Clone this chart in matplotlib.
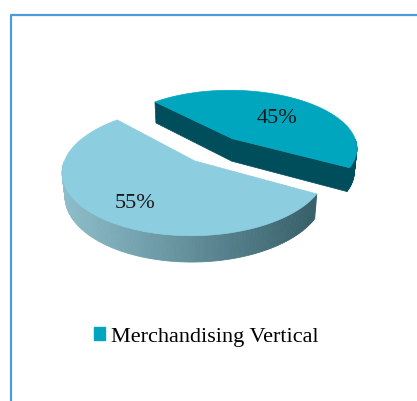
import numpy as np
import matplotlib.pyplot as plt
from matplotlib.patches import Polygon, Patch
from matplotlib.lines import Line2D

# pie data
shares = [45, 55]
share_labels = ['45%', '55%']
legend_names = ['Merchandising Vertical', '']
top_colors = ['#00a6be', '#8ccddf']
side_colors = ['#004e5c', None]          # None -> shaded rim
rim_light, rim_dark = np.array([0.56, 0.75, 0.80]), np.array([0.22, 0.38, 0.42])

# 3d view settings (pixel space)
elev = np.radians(29.7)
dist = 5.64
focal = 700.0
cx, cy = 214.0, 172.5
height = 0.21
explode = 0.24
start = -29.0


def project(X, Y, Z):
    w = dist + Y * np.cos(elev) - Z * np.sin(elev)
    v = Y * np.sin(elev) + Z * np.cos(elev)
    return cx + focal * X / w, cy - focal * v / w


fig = plt.figure(figsize=(4.17, 4.01), dpi=100)
ax = fig.add_axes([0, 0, 1, 1])
ax.set_xlim(0, 417)
ax.set_ylim(401, 0)
ax.axis('off')

total = float(sum(shares))
angles = [start]
for s in shares:
    angles.append(angles[-1] + 360.0 * s / total)

label_pos = []
for i, s in enumerate(shares):
    t1, t2 = angles[i], angles[i + 1]
    mid = np.radians((t1 + t2) / 2)
    ox, oy = explode * np.cos(mid), explode * np.sin(mid)
    ts = np.radians(np.linspace(t1, t2, 200))
    rx, ry = ox + np.cos(ts), oy + np.sin(ts)

    # cut walls facing the viewer
    for t, sgn in ((t1, -1), (t2, 1)):
        if np.sin(np.radians(t + sgn * 90)) < 0:
            ex, ey = ox + np.cos(np.radians(t)), oy + np.sin(np.radians(t))
            pts = [project(ox, oy, height), project(ox, oy, 0),
                   project(ex, ey, 0), project(ex, ey, height)]
            ax.add_patch(Polygon(pts, closed=True, fc=side_colors[i] or rim_dark,
                                 ec=side_colors[i] or rim_dark, lw=0.5, zorder=2 * i + 1))

    # outer rim, front half only
    front = np.sin(ts) < 0
    idx = np.where(front)[0]
    for k in idx[:-1]:
        if not front[k + 1]:
            continue
        xa, ya = project(rx[k:k + 2], ry[k:k + 2], height)
        xb, yb = project(rx[k:k + 2], ry[k:k + 2], 0)
        quad = [(xa[0], ya[0]), (xa[1], ya[1]), (xb[1], yb[1]), (xb[0], yb[0])]
        if side_colors[i] is None:
            frac = (xa[0] - 60) / 250.0
            frac = min(max(frac, 0), 1)
            col = rim_light * (1 - frac) + rim_dark * frac
        else:
            col = side_colors[i]
        ax.add_patch(Polygon(quad, closed=True, fc=col, ec=col, lw=0.6, zorder=2 * i + 1))

    # top face
    tx, ty = project(rx, ry, height)
    px, py = project(ox, oy, height)
    top = [(px, py)] + list(zip(tx, ty))
    ax.add_patch(Polygon(top, closed=True, fc=top_colors[i], ec=top_colors[i],
                         lw=0.5, zorder=2 * i + 2))

    lx, ly = project(ox + 0.66 * np.cos(mid), oy + 0.66 * np.sin(mid), height)
    label_pos.append((lx, ly + 4))

for (lx, ly), txt in zip(label_pos, share_labels):
    ax.text(lx, ly, txt, ha='center', va='center_baseline', fontsize=16,
            family='Liberation Serif', color='#1a1a1a', zorder=10)

# chart border
fig.add_artist(Line2D([10.5 / 417, 10.5 / 417, 1], [0, 1 - 15 / 401, 1 - 15 / 401],
                      transform=fig.transFigure, color='#4a9be0', lw=1.6))

handles = [Patch(color=top_colors[i]) for i, n in enumerate(legend_names) if n]
names = [n for n in legend_names if n]
ax.legend(handles, names, loc='center', bbox_to_anchor=(206 / 417, 1 - 337 / 401),
          frameon=False, prop={'family': 'Liberation Serif', 'size': 16},
          handlelength=0.5, handleheight=0.5, handletextpad=0.25,
          bbox_transform=fig.transFigure)

fig.savefig('out.png', dpi=100)
